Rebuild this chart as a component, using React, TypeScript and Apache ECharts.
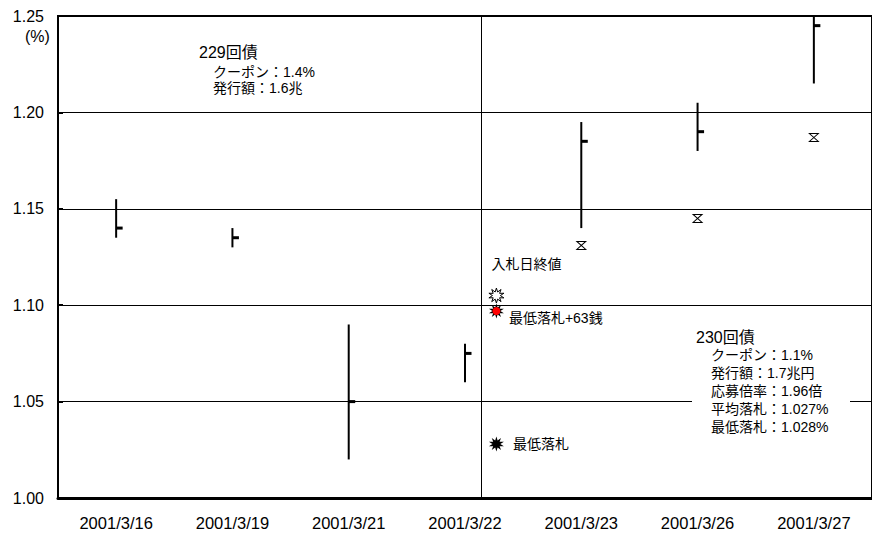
import React, { useEffect, useRef } from "react";
import * as echarts from "echarts";

// Trading days shown on the horizontal axis
const categories = [
  "2001/3/16",
  "2001/3/19",
  "2001/3/21",
  "2001/3/22",
  "2001/3/23",
  "2001/3/26",
  "2001/3/27",
];

// 229回債 daily yield range (%)
const highs = [1.155, 1.14, 1.09, 1.08, 1.195, 1.205, 1.25];
const lows = [1.135, 1.13, 1.02, 1.06, 1.14, 1.18, 1.215];
const closes = [1.14, 1.135, 1.05, 1.075, 1.185, 1.19, 1.245];

// 230回債 yields after issue (%)
const issue230 = [null, null, null, null, 1.131, 1.145, 1.187];

// Auction-day reference points (%)
const auctionClose = 1.105;
const lowestPlus63 = 1.097;
const lowestAccepted = 1.028;

// Positions on the hidden value axis (one unit per trading day)
const AUCTION_POS = 3.77;
const SEPARATOR_POS = 3.64;

const yTicks = { min: 1.0, max: 1.25, interval: 0.05 };

const FONT = '"Liberation Sans", Arial, "Noto Sans CJK JP", sans-serif';

function starPath(points: number, inner: number): string {
  let d = "";
  for (let k = 0; k < points * 2; k++) {
    const r = k % 2 === 0 ? 1 : inner;
    const a = (Math.PI * k) / points - Math.PI / 2;
    const x = (r * Math.cos(a) + 1) * 10;
    const y = (r * Math.sin(a) + 1) * 10;
    d += (k === 0 ? "M" : "L") + x.toFixed(2) + "," + y.toFixed(2) + " ";
  }
  return "path://" + d + "Z";
}

const STAR = starPath(10, 0.5);
const HOURGLASS = "path://M0,0 L10,0 L0,9 L10,9 Z";

export default function App() {
  const ref = useRef<HTMLDivElement>(null);

  useEffect(() => {
    document.body.style.margin = "0";
    if (!ref.current) return;
    const chart = echarts.init(ref.current, undefined, { renderer: "svg" });

    const ohlc = categories.map((_, i) => [i + 0.5, highs[i], lows[i], closes[i]]);
    const issueData = issue230
      .map((v, i) => (v == null ? null : [i + 0.5, v]))
      .filter((d) => d !== null);

    const textLine = (text: string, x: number, y: number, size: number) => ({
      type: "text",
      x,
      y,
      z: 101,
      style: {
        text,
        fill: "#000",
        fontSize: size,
        fontFamily: FONT,
        verticalAlign: "middle",
        align: "left",
      },
    });

    const option: any = {
      animation: false,
      textStyle: { fontFamily: FONT },
      grid: {
        left: 58,
        top: 16,
        width: 820,
        height: 482,
        show: true,
        borderColor: "#000",
        borderWidth: 2,
      },
      xAxis: [
        {
          type: "category",
          data: categories,
          boundaryGap: true,
          axisLine: { lineStyle: { color: "#000", width: 3 } },
          axisTick: { inside: true, length: 5, lineStyle: { color: "#000", width: 1.5 } },
          axisLabel: { color: "#000", fontSize: 16.5, margin: 17, fontFamily: FONT },
          splitLine: { show: false },
        },
        { type: "value", min: 0, max: 7, show: false },
      ],
      yAxis: {
        type: "value",
        min: yTicks.min,
        max: yTicks.max,
        interval: yTicks.interval,
        axisLine: { show: true, lineStyle: { color: "#000", width: 2 } },
        axisTick: { show: true, inside: true, length: 5, lineStyle: { color: "#000", width: 2 } },
        axisLabel: {
          color: "#000",
          fontSize: 16,
          margin: 14,
          fontFamily: FONT,
          formatter: (v: number) => v.toFixed(2),
        },
        splitLine: { show: true, lineStyle: { color: "#000", width: 1 } },
      },
      series: [
        {
          type: "custom",
          xAxisIndex: 1,
          data: ohlc,
          encode: { x: 0, y: [1, 2, 3] },
          z: 5,
          renderItem: (_params: any, api: any) => {
            const x = api.value(0);
            const hi = api.coord([x, api.value(1)]);
            const lo = api.coord([x, api.value(2)]);
            const cl = api.coord([x, api.value(3)]);
            return {
              type: "group",
              children: [
                {
                  type: "line",
                  shape: { x1: hi[0], y1: hi[1], x2: lo[0], y2: lo[1] },
                  style: { stroke: "#000", lineWidth: 2 },
                },
                {
                  type: "line",
                  shape: { x1: cl[0], y1: cl[1], x2: cl[0] + 6.5, y2: cl[1] },
                  style: { stroke: "#000", lineWidth: 3 },
                },
              ],
            };
          },
          markLine: {
            silent: true,
            symbol: "none",
            label: { show: false },
            lineStyle: { color: "#000", width: 1, type: "solid" },
            data: [{ xAxis: SEPARATOR_POS }],
          },
        },
        {
          type: "scatter",
          xAxisIndex: 1,
          data: issueData,
          symbol: HOURGLASS,
          symbolSize: [9, 8],
          itemStyle: { color: "#fff", borderColor: "#000", borderWidth: 1, opacity: 1 },
          z: 6,
        },
        {
          type: "scatter",
          xAxisIndex: 1,
          data: [[AUCTION_POS, auctionClose]],
          symbol: STAR,
          symbolSize: 15,
          itemStyle: { color: "#fff", borderColor: "#000", borderWidth: 1, opacity: 1 },
          z: 6,
          label: {
            show: true,
            formatter: "入札日終値",
            position: [3, -31],
            color: "#000",
            fontSize: 14,
            fontFamily: FONT,
          },
        },
        {
          type: "scatter",
          xAxisIndex: 1,
          data: [[AUCTION_POS, lowestPlus63]],
          symbol: STAR,
          symbolSize: 15,
          itemStyle: { color: "#000", opacity: 1 },
          z: 6,
          label: {
            show: true,
            formatter: "最低落札+63銭",
            position: "right",
            distance: 5,
            offset: [0, 7],
            color: "#000",
            fontSize: 14,
            fontFamily: FONT,
          },
        },
        {
          type: "scatter",
          xAxisIndex: 1,
          data: [[AUCTION_POS, lowestPlus63]],
          symbol: "circle",
          symbolSize: 8,
          itemStyle: { color: "#ff0000", opacity: 1 },
          z: 7,
        },
        {
          type: "scatter",
          xAxisIndex: 1,
          data: [[AUCTION_POS, lowestAccepted]],
          symbol: STAR,
          symbolSize: 15,
          itemStyle: { color: "#000", opacity: 1 },
          z: 6,
          label: {
            show: true,
            formatter: "最低落札",
            position: "right",
            distance: 9,
            color: "#000",
            fontSize: 14,
            fontFamily: FONT,
          },
        },
      ],
      graphic: [
        textLine("(%)", 25, 36, 16),
        textLine("229回債", 199, 52, 16),
        textLine("クーポン：1.4%", 213, 72, 14),
        textLine("発行額：1.6兆", 213, 88, 14),
        {
          type: "rect",
          z: 100,
          shape: { x: 692, y: 328, width: 158, height: 108 },
          style: { fill: "#fff" },
        },
        textLine("230回債", 696, 337, 16),
        textLine("クーポン：1.1%", 711, 355, 14),
        textLine("発行額：1.7兆円", 711, 373, 14),
        textLine("応募倍率：1.96倍", 711, 391, 14),
        textLine("平均落札：1.027%", 711, 409, 14),
        textLine("最低落札：1.028%", 711, 427, 14),
      ],
    };

    chart.setOption(option);
    return () => chart.dispose();
  }, []);

  return <div ref={ref} style={{ width: 872, height: 535 }} />;
}
